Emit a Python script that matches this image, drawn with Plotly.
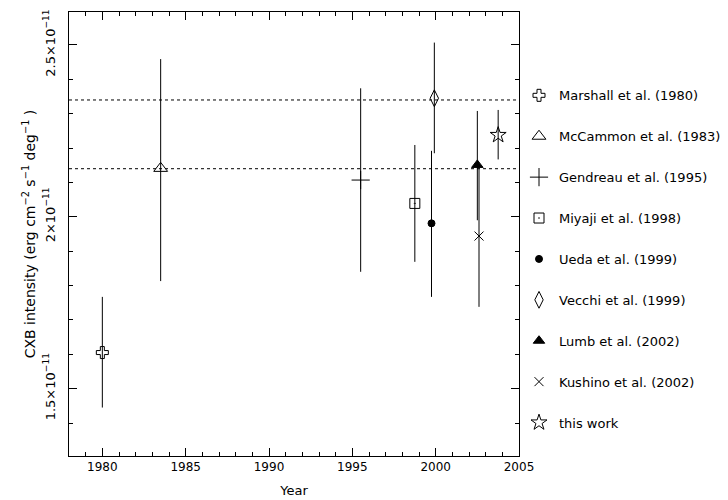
import plotly.graph_objects as go

# ---- data (CXB intensity in erg cm^-2 s^-1 deg^-1) ----
labels = ["Marshall et al. (1980)", "McCammon et al. (1983)", "Gendreau et al. (1995)",
          "Miyaji et al. (1998)", "Ueda et al. (1999)", "Vecchi et al. (1999)",
          "Lumb et al. (2002)", "Kushino et al. (2002)", "this work"]
years = [1980.0, 1983.5, 1995.5, 1998.75, 1999.75, 1999.92, 2002.5, 2002.6, 2003.75]
intensity = [1.605e-11, 2.141e-11, 2.107e-11, 2.039e-11, 1.981e-11, 2.345e-11, 2.151e-11, 1.944e-11, 2.238e-11]
err_plus = [0.162e-11, 0.318e-11, 0.267e-11, 0.170e-11, 0.211e-11, 0.162e-11, 0.157e-11, 0.206e-11, 0.073e-11]
err_minus = [0.160e-11, 0.328e-11, 0.267e-11, 0.170e-11, 0.214e-11, 0.160e-11, 0.161e-11, 0.206e-11, 0.071e-11]
symbols = ["cross-open", "triangle-up-open", "cross-thin-open", "square-open-dot", "circle",
           "diamond-tall-open", "triangle-up", "x-thin-open", "star-open"]
sizes = [10, 12, 13, 10, 7, 12, 10, 9, 12]

reference_levels = [2.34e-11, 2.14e-11]
x_range = [1978, 2005]
y_range = [1.304e-11, 2.596e-11]
y_tickvals = [1.5e-11, 2.0e-11, 2.5e-11]
y_ticktext = ["1.5×10<sup>−11</sup>", "2×10<sup>−11</sup>", "2.5×10<sup>−11</sup>"]

FONT = "DejaVu Sans"
fig = go.Figure()

for lvl in reference_levels:
    fig.add_trace(go.Scatter(x=x_range, y=[lvl, lvl], mode="lines",
                             line=dict(color="black", width=1, dash="dot"),
                             showlegend=False, hoverinfo="skip"))

for i, lab in enumerate(labels):
    fig.add_trace(go.Scatter(
        x=[years[i]], y=[intensity[i]], mode="markers", name=lab,
        legendgroup=lab,
        marker=dict(symbol=symbols[i], size=sizes[i], color="black",
                    line=dict(color="black", width=1)),
        error_y=dict(type="data", symmetric=False, array=[err_plus[i]],
                     arrayminus=[err_minus[i]], width=0, thickness=1, color="black"),
    ))

fig.update_layout(
    width=720, height=492,
    margin=dict(l=61, r=209, t=4, b=44, autoexpand=False),
    paper_bgcolor="white", plot_bgcolor="white",
    font=dict(family=FONT, size=12, color="black"),
    legend=dict(x=1.0, y=0.846, xanchor="left", yanchor="top",
                font=dict(family=FONT, size=13), tracegroupgap=21,
                bgcolor="rgba(0,0,0,0)"),
    showlegend=True,
)
fig.update_xaxes(range=x_range, dtick=5, tick0=1980, ticks="inside", ticklen=8,
                 showgrid=False, zeroline=False, showline=True, linecolor="black",
                 linewidth=1, mirror="allticks", tickcolor="black", automargin=False,
                 tickfont=dict(size=12),
                 minor=dict(dtick=1, ticks="inside", ticklen=4, tickcolor="black", showgrid=False),
                 title=dict(text="Year", standoff=12, font=dict(size=13)))
fig.update_yaxes(range=y_range, tickvals=y_tickvals, ticktext=y_ticktext, tickangle=-90,
                 ticks="inside", ticklen=8, showgrid=False, zeroline=False, showline=True,
                 linecolor="black", linewidth=1, mirror="allticks", tickcolor="black",
                 automargin=False, tickfont=dict(size=13), ticklabelstandoff=8,
                 minor=dict(tick0=1.0e-11, dtick=0.1e-11, ticks="inside", ticklen=4,
                            tickcolor="black", showgrid=False),
                 title=dict(text="CXB intensity (erg cm<sup>−2</sup> s<sup>−1</sup> deg<sup>−1</sup> )",
                            standoff=2, font=dict(size=14)))

fig.write_html("out.html")
